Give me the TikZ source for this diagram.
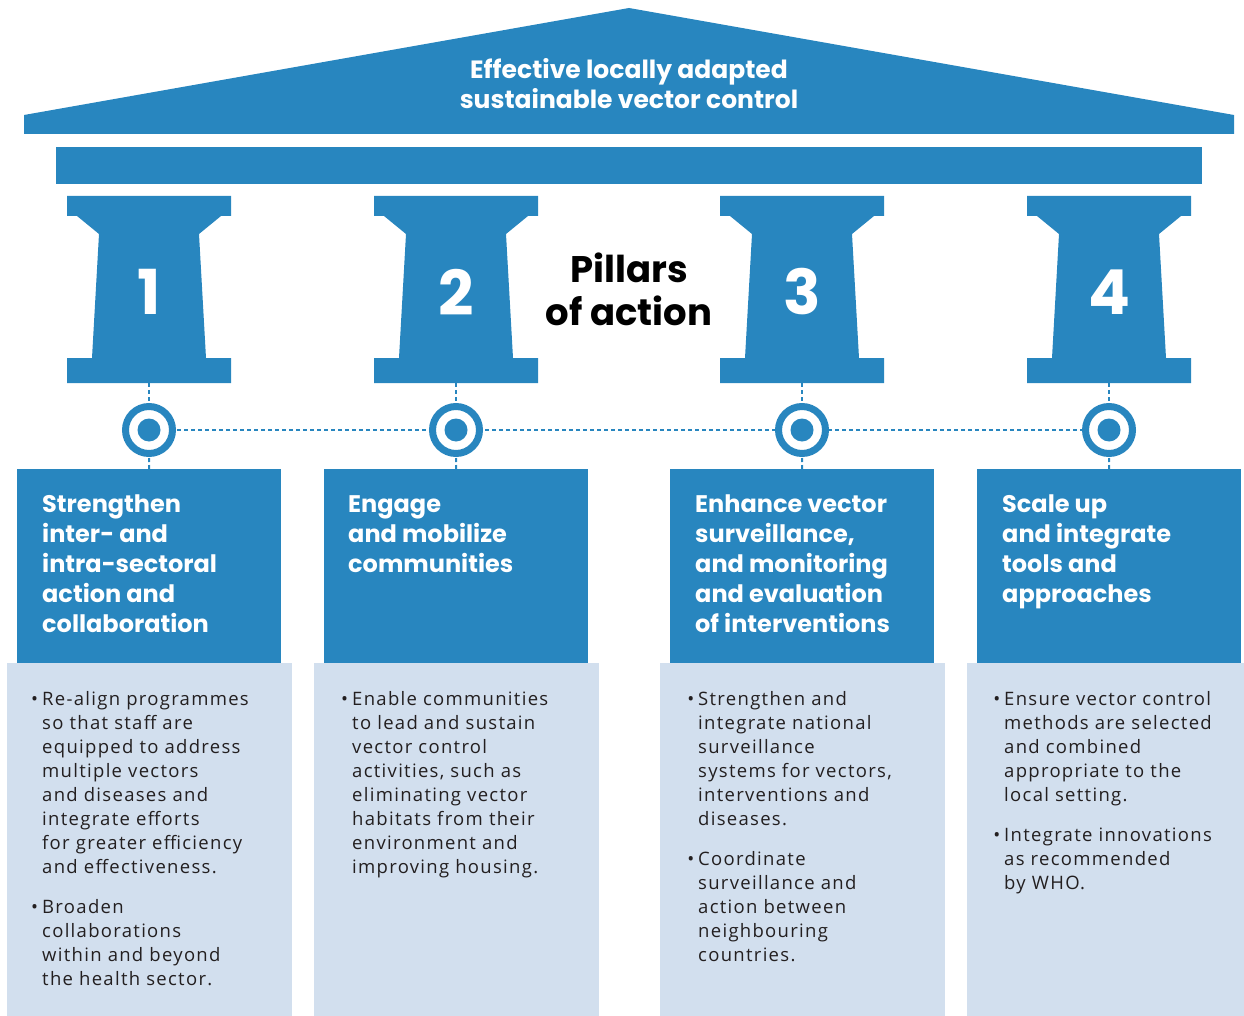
\documentclass[tikz,border=0pt]{standalone}
\usepackage{fontspec}
\setmainfont{Open Sans}[LetterSpace=7]
\newfontfamily\headfont{Poppins}
\usetikzlibrary{positioning}
\definecolor{pillarblue}{RGB}{40,134,191}
\definecolor{lightblue}{RGB}{210,223,238}
\definecolor{textgrey}{RGB}{35,31,32}
\tikzset{
  headbox/.style={fill=pillarblue, minimum width=264pt, minimum height=194pt, anchor=north west, inner sep=0pt},
  bodybox/.style={fill=lightblue, minimum width=285pt, minimum height=353pt, anchor=north west, inner sep=0pt},
  headtext/.style={text=white, font=\headfont\bfseries\fontsize{24}{30}\selectfont, align=left, anchor=north west, inner sep=0pt},
  bodytext/.style={text=textgrey, font=\fontsize{18.5}{24}\selectfont, align=left, anchor=north west, inner sep=0pt},
  numtext/.style={text=white, font=\headfont\bfseries\fontsize{62}{62}\selectfont, inner sep=0pt},
  ring/.style={circle, draw=pillarblue, line width=7pt, fill=white, minimum size=47pt, inner sep=0pt},
  link/.style={pillarblue, line width=2pt, dash pattern=on 4pt off 3pt}
}
\newcommand\bul{\llap{\textbullet\hspace{4pt}}}

\begin{document}
\begin{tikzpicture}[x=1pt, y=-1pt]
  \useasboundingbox (0,0) rectangle (1244,1016);

  %% roof and beam
  \fill[pillarblue] (24,134) -- (24,115) -- (629,8) -- (1234,115) -- (1234,134) -- cycle;
  \fill[pillarblue] (56,147) rectangle (1202,184);
  \node[text=white, font=\headfont\bfseries\fontsize{25}{30}\selectfont, align=center, anchor=north] (roof) at (629,55)
    {Effective locally adapted\\sustainable vector control};

  \node[text=black, font=\headfont\bfseries\fontsize{37}{43}\selectfont, align=center, anchor=north] (title) at (629,249)
    {Pillars\\of action};

  %% pillars, rings and boxes
  \foreach \cx/\num in {149/1, 456/2, 802/3, 1109/4}{
    \fill[pillarblue] (\cx-82,196) -- (\cx+82,196) -- (\cx+82,216) -- (\cx+72,216) -- (\cx+50,234)
      -- (\cx+57,358) -- (\cx+82,358) -- (\cx+82,383) -- (\cx-82,383) -- (\cx-82,358) -- (\cx-57,358)
      -- (\cx-50,234) -- (\cx-72,216) -- (\cx-82,216) -- cycle;
    \node[numtext] (p\num) at (\cx,292) {\num};
    \coordinate (b\num) at (\cx,383);
    \node[headbox] (h\num) at (\cx-132,469) {};
    \node[bodybox] (l\num) at (\cx-142,663) {};
    \draw[link] (b\num) -- (\cx,430);
    \draw[link] (\cx,430) -- (h\num.north);
  }
  \draw[link] (149,430) -- (1109,430);
  \foreach \num in {1,...,4}{
    \node[ring] (c\num) at (b\num |- 0,430) {};
    \fill[pillarblue] (c\num) circle (11.5);
  }
  \fill[white] (1244,600) rectangle (1260,1016);

  %% headings
  \node[headtext] (t1) at (42,495) {Strengthen\\inter- and\\intra-sectoral\\action and\\collaboration};
  \node[headtext] (t2) at (348,495) {Engage\\and mobilize\\communities};
  \node[headtext] (t3) at (695,495) {Enhance vector\\surveillance,\\and monitoring\\and evaluation\\of interventions};
  \node[headtext] (t4) at (1002,495) {Scale up\\and integrate\\tools and\\approaches};

  %% bullet texts
  \node[bodytext] (x1) at (42,691) {\bul Re-align programmes\\so that staff are\\equipped to address\\multiple vectors\\and diseases and\\integrate efforts\\for greater efficiency\\and effectiveness.\\[16pt]
    \bul Broaden\\collaborations\\within and beyond\\the health sector.};
  \node[bodytext] (x2) at (352,691) {\bul Enable communities\\to lead and sustain\\vector control\\activities, such as\\eliminating vector\\habitats from their\\environment and\\improving housing.};
  \node[bodytext] (x3) at (698,691) {\bul Strengthen and\\integrate national\\surveillance\\systems for vectors,\\interventions and\\diseases.\\[16pt]
    \bul Coordinate\\surveillance and\\action between\\neighbouring\\countries.};
  \node[bodytext] (x4) at (1004,691) {\bul Ensure vector control\\methods are selected\\and combined\\appropriate to the\\local setting.\\[16pt]
    \bul Integrate innovations\\as recommended\\by WHO.};
\end{tikzpicture}
\end{document}
